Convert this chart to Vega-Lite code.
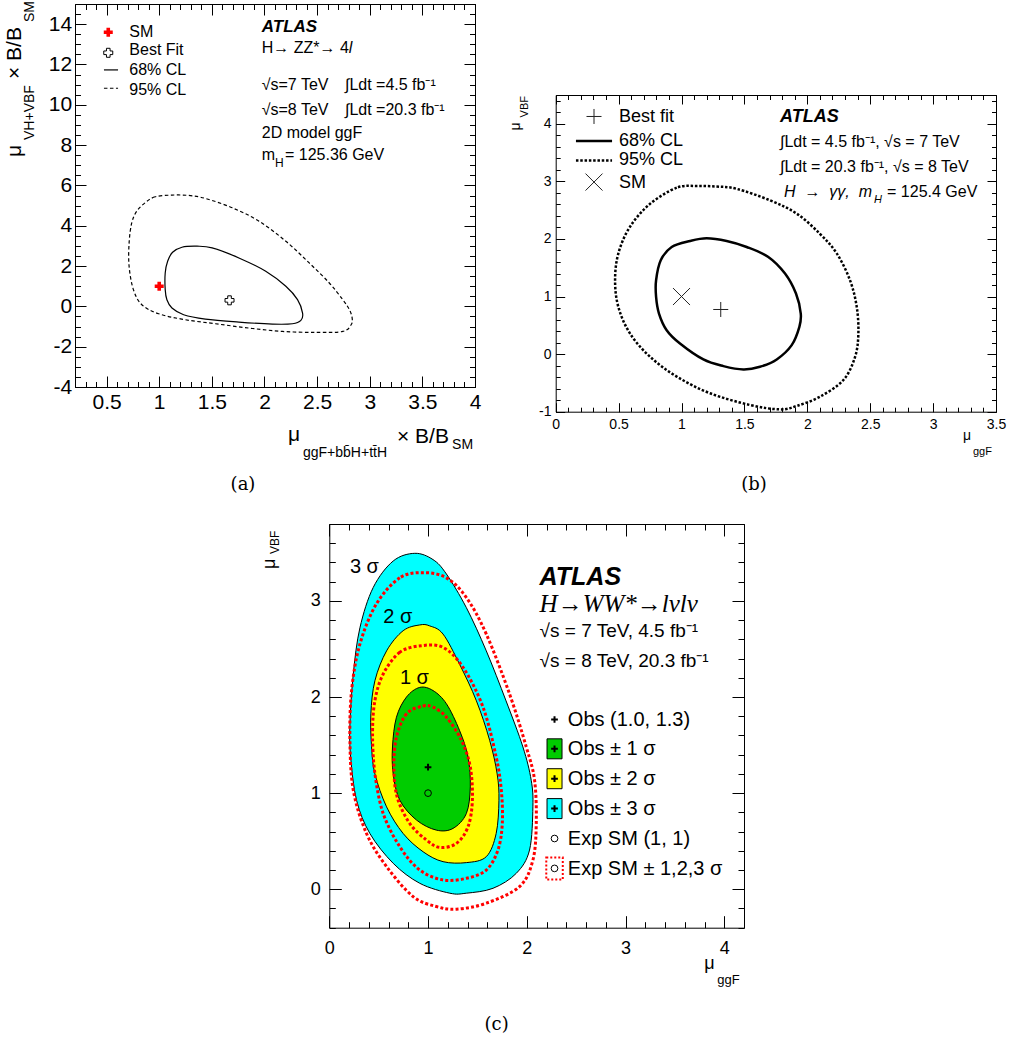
{
"$schema":"https://vega.github.io/schema/vega-lite/v6.json",
"width":1013,"height":1043,
"autosize":{"type":"none"},
"padding":0,
"background":"white",
"config":{"view":{"stroke":null},"axis":{"grid":false,"labelFont":"Liberation Sans","labelColor":"black","tickColor":"black","domainColor":"black","labelFlush":false,"labelOverlap":false,"tickWidth":1,"domainWidth":1,"zindex":1},"text":{"font":"Liberation Sans","color":"black"}},
"datasets":{
"a68":[{"i":0,"x":1.057,"y":0.829},{"i":1,"x":1.057,"y":1.658},{"i":2,"x":1.08,"y":2.238},{"i":3,"x":1.127,"y":2.685},{"i":4,"x":1.216,"y":2.934},{"i":5,"x":1.36,"y":2.984},{"i":6,"x":1.503,"y":2.901},{"i":7,"x":1.757,"y":2.403},{"i":8,"x":2.012,"y":1.74},{"i":9,"x":2.203,"y":0.995},{"i":10,"x":2.314,"y":0.332},{"i":11,"x":2.362,"y":-0.332},{"i":12,"x":2.346,"y":-0.696},{"i":13,"x":2.266,"y":-0.862},{"i":14,"x":2.075,"y":-0.879},{"i":15,"x":1.757,"y":-0.779},{"i":16,"x":1.439,"y":-0.63},{"i":17,"x":1.232,"y":-0.414},{"i":18,"x":1.121,"y":-0.083},{"i":19,"x":1.073,"y":0.332}],
"a95":[{"i":0,"x":1.121,"y":5.52},{"i":1,"x":0.962,"y":5.437},{"i":2,"x":0.866,"y":5.138},{"i":3,"x":0.787,"y":4.724},{"i":4,"x":0.739,"y":4.144},{"i":5,"x":0.714,"y":3.149},{"i":6,"x":0.714,"y":1.989},{"i":7,"x":0.755,"y":0.829},{"i":8,"x":0.835,"y":0.083},{"i":9,"x":0.994,"y":-0.365},{"i":10,"x":1.248,"y":-0.663},{"i":11,"x":1.535,"y":-0.862},{"i":12,"x":1.853,"y":-1.077},{"i":13,"x":2.171,"y":-1.243},{"i":14,"x":2.489,"y":-1.293},{"i":15,"x":2.744,"y":-1.243},{"i":16,"x":2.823,"y":-0.912},{"i":17,"x":2.833,"y":-0.58},{"i":18,"x":2.807,"y":-0.166},{"i":19,"x":2.744,"y":0.332},{"i":20,"x":2.616,"y":1.16},{"i":21,"x":2.425,"y":2.155},{"i":22,"x":2.203,"y":3.232},{"i":23,"x":1.948,"y":4.227},{"i":24,"x":1.694,"y":4.89},{"i":25,"x":1.439,"y":5.354},{"i":26,"x":1.28,"y":5.503}],
"aSM":[{"x":1,"y":1},{"x":0.516,"y":13.6}],
"aBF":[{"x":1.668,"y":0.3},{"x":0.516,"y":12.58}],
"aL68":[{"x":0.475,"x2":0.609,"y":11.73}],
"aL95":[{"x":0.475,"x2":0.609,"y":10.82}],
"aTxt":[{"x":1.974,"y":12.555,"t":"H→ ZZ*→ 4"},{"x":1.974,"y":10.734,"t":"√s=7 TeV"},{"x":2.765,"y":10.734,"t":"∫Ldt =4.5 fb⁻¹"},{"x":1.974,"y":9.494,"t":"√s=8 TeV"},{"x":2.765,"y":9.494,"t":"∫Ldt =20.3 fb⁻¹"},{"x":1.974,"y":8.353,"t":"2D model ggF"},{"x":1.974,"y":7.262,"t":"m"},{"x":2.195,"y":7.262,"t":"= 125.36 GeV"},{"x":0.716,"y":13.38,"t":"SM"},{"x":0.716,"y":12.47,"t":"Best Fit"},{"x":0.716,"y":11.48,"t":"68% CL"},{"x":0.716,"y":10.49,"t":"95% CL"}],
"aItal":[{"x":2.8,"y":12.555,"t":"l"}],
"aSub":[{"x":2.1,"y":6.915,"t":"H"}],
"aAtlas":[{"x":1.974,"y":13.626,"t":"ATLAS"}],
"aAxT":[{"x":2.224,"y":-6.676,"t":"μ"},{"x":3.259,"y":-6.776,"t":"× B/B"}],
"aAxS":[{"x":2.366,"y":-7.47,"t":"ggF+bb̄H+tt̄H"},{"x":3.782,"y":-7.07,"t":"SM"}],
"aAxTR":[{"x":-0.313,"y":7.411,"t":"μ"},{"x":-0.313,"y":11.28,"t":"× B/B"}],
"aAxSR":[{"x":-0.1895,"y":8.254,"t":"VH+VBF"},{"x":-0.1895,"y":14.107,"t":"SM"}],
"aLab":[{"x":1.796,"y":-9.107,"t":"(a)"}],
"b68":[{"i":0,"x":1.2,"y":2.012},{"i":1,"x":1.068,"y":1.965},{"i":2,"x":0.922,"y":1.861},{"i":3,"x":0.835,"y":1.63},{"i":4,"x":0.798,"y":1.283},{"i":5,"x":0.798,"y":0.994},{"i":6,"x":0.821,"y":0.705},{"i":7,"x":0.882,"y":0.416},{"i":8,"x":0.988,"y":0.185},{"i":9,"x":1.174,"y":-0.092},{"i":10,"x":1.333,"y":-0.208},{"i":11,"x":1.492,"y":-0.266},{"i":12,"x":1.624,"y":-0.22},{"i":13,"x":1.757,"y":-0.092},{"i":14,"x":1.876,"y":0.156},{"i":15,"x":1.937,"y":0.474},{"i":16,"x":1.948,"y":0.705},{"i":17,"x":1.91,"y":1.052},{"i":18,"x":1.823,"y":1.399},{"i":19,"x":1.69,"y":1.688},{"i":20,"x":1.518,"y":1.861},{"i":21,"x":1.359,"y":1.965}],
"b95":[{"i":0,"x":1.121,"y":2.92},{"i":1,"x":0.962,"y":2.89},{"i":2,"x":0.75,"y":2.61},{"i":3,"x":0.59,"y":2.21},{"i":4,"x":0.498,"y":1.75},{"i":5,"x":0.472,"y":1.28},{"i":6,"x":0.498,"y":0.82},{"i":7,"x":0.59,"y":0.36},{"i":8,"x":0.75,"y":-0.046},{"i":9,"x":0.962,"y":-0.39},{"i":10,"x":1.227,"y":-0.68},{"i":11,"x":1.545,"y":-0.884},{"i":12,"x":1.783,"y":-0.96},{"i":13,"x":1.916,"y":-0.9},{"i":14,"x":2.1,"y":-0.74},{"i":15,"x":2.287,"y":-0.45},{"i":16,"x":2.38,"y":-0.046},{"i":17,"x":2.406,"y":0.358},{"i":18,"x":2.393,"y":0.82},{"i":19,"x":2.34,"y":1.28},{"i":20,"x":2.234,"y":1.75},{"i":21,"x":2.1,"y":2.09},{"i":22,"x":1.916,"y":2.44},{"i":23,"x":1.704,"y":2.67},{"i":24,"x":1.439,"y":2.87},{"i":25,"x":1.28,"y":2.91}],
"bSM":[{"x":1,"y":1},{"x":0.3045,"y":2.988}],
"bBF":[{"x":1.312,"y":0.775},{"x":0.3045,"y":4.127}],
"bL68":[{"x":0.161,"x2":0.448,"y":3.699}],
"bL95":[{"x":0.161,"x2":0.448,"y":3.364}],
"bLeg":[{"x":0.503,"y":4.028,"t":"Best fit"},{"x":0.503,"y":3.607,"t":"68% CL"},{"x":0.503,"y":3.277,"t":"95% CL"},{"x":0.503,"y":2.89,"t":"SM"}],
"bTxt":[{"x":1.783,"y":3.595,"t":"∫Ldt = 4.5 fb⁻¹, √s = 7 TeV"},{"x":1.783,"y":3.161,"t":"∫Ldt = 20.3 fb⁻¹, √s = 8 TeV"},{"x":2.634,"y":2.728,"t":"= 125.4 GeV"}],
"bItal":[{"x":1.815,"y":2.728,"t":"H \u00a0→ \u00a0γγ, \u00a0m"}],
"bSub":[{"x":2.53,"y":2.618,"t":"H"}],
"bAtlas":[{"x":1.783,"y":4.028,"t":"ATLAS"}],
"bAxT":[{"x":3.238,"y":-1.491,"t":"μ"}],
"bAxS":[{"x":3.317,"y":-1.751,"t":"ggF"}],
"bAxTR":[{"x":-0.284,"y":3.884,"t":"μ"}],
"bAxSR":[{"x":-0.22,"y":4.11,"t":"VBF"}],
"bLab":[{"x":1.576,"y":-2.358,"t":"(b)"}],
"c3":[{"i":0,"x":0.866,"y":3.495},{"i":1,"x":0.647,"y":3.415},{"i":2,"x":0.445,"y":3.14},{"i":3,"x":0.31,"y":2.72},{"i":4,"x":0.243,"y":2.24},{"i":5,"x":0.209,"y":1.72},{"i":6,"x":0.216,"y":1.376},{"i":7,"x":0.276,"y":0.926},{"i":8,"x":0.411,"y":0.58},{"i":9,"x":0.647,"y":0.27},{"i":10,"x":0.916,"y":0.062},{"i":11,"x":1.22,"y":-0.041},{"i":12,"x":1.388,"y":-0.041},{"i":13,"x":1.658,"y":0.01},{"i":14,"x":1.894,"y":0.166},{"i":15,"x":2.028,"y":0.408},{"i":16,"x":2.062,"y":0.857},{"i":17,"x":2.045,"y":1.134},{"i":18,"x":1.961,"y":1.48},{"i":19,"x":1.79,"y":1.96},{"i":20,"x":1.59,"y":2.48},{"i":21,"x":1.388,"y":2.93},{"i":22,"x":1.186,"y":3.28},{"i":23,"x":1.05,"y":3.43}],
"c2":[{"i":0,"x":0.916,"y":2.75},{"i":1,"x":0.748,"y":2.69},{"i":2,"x":0.58,"y":2.48},{"i":3,"x":0.462,"y":2.17},{"i":4,"x":0.421,"y":1.825},{"i":5,"x":0.428,"y":1.48},{"i":6,"x":0.462,"y":1.2},{"i":7,"x":0.58,"y":0.857},{"i":8,"x":0.748,"y":0.58},{"i":9,"x":0.95,"y":0.39},{"i":10,"x":1.152,"y":0.287},{"i":11,"x":1.388,"y":0.277},{"i":12,"x":1.59,"y":0.339},{"i":13,"x":1.69,"y":0.58},{"i":14,"x":1.718,"y":0.926},{"i":15,"x":1.7,"y":1.2},{"i":16,"x":1.624,"y":1.55},{"i":17,"x":1.49,"y":1.96},{"i":18,"x":1.32,"y":2.34},{"i":19,"x":1.152,"y":2.655},{"i":20,"x":1.017,"y":2.74}],
"c1":[{"i":0,"x":0.916,"y":2.1},{"i":1,"x":0.782,"y":2.0},{"i":2,"x":0.68,"y":1.79},{"i":3,"x":0.64,"y":1.48},{"i":4,"x":0.647,"y":1.2},{"i":5,"x":0.714,"y":0.926},{"i":6,"x":0.883,"y":0.72},{"i":7,"x":1.085,"y":0.615},{"i":8,"x":1.253,"y":0.633},{"i":9,"x":1.388,"y":0.788},{"i":10,"x":1.428,"y":1.065},{"i":11,"x":1.405,"y":1.376},{"i":12,"x":1.32,"y":1.65},{"i":13,"x":1.186,"y":1.93},{"i":14,"x":1.051,"y":2.067}],
"e3":[{"i":0,"x":0.95,"y":3.294},{"i":1,"x":0.714,"y":3.24},{"i":2,"x":0.478,"y":2.97},{"i":3,"x":0.31,"y":2.55},{"i":4,"x":0.226,"y":2.07},{"i":5,"x":0.209,"y":1.55},{"i":6,"x":0.243,"y":1.03},{"i":7,"x":0.377,"y":0.58},{"i":8,"x":0.58,"y":0.235},{"i":9,"x":0.849,"y":-0.076},{"i":10,"x":1.085,"y":-0.18},{"i":11,"x":1.287,"y":-0.207},{"i":12,"x":1.59,"y":-0.145},{"i":13,"x":1.927,"y":0.028},{"i":14,"x":2.062,"y":0.304},{"i":15,"x":2.096,"y":0.684},{"i":16,"x":2.079,"y":1.134},{"i":17,"x":1.995,"y":1.48},{"i":18,"x":1.826,"y":2.03},{"i":19,"x":1.59,"y":2.655},{"i":20,"x":1.388,"y":3.035},{"i":21,"x":1.186,"y":3.24}],
"e2":[{"i":0,"x":0.933,"y":2.534},{"i":1,"x":0.714,"y":2.465},{"i":2,"x":0.546,"y":2.24},{"i":3,"x":0.462,"y":1.963},{"i":4,"x":0.438,"y":1.618},{"i":5,"x":0.462,"y":1.203},{"i":6,"x":0.546,"y":0.788},{"i":7,"x":0.714,"y":0.442},{"i":8,"x":0.916,"y":0.2},{"i":9,"x":1.152,"y":0.097},{"i":10,"x":1.388,"y":0.114},{"i":11,"x":1.59,"y":0.2},{"i":12,"x":1.708,"y":0.408},{"i":13,"x":1.752,"y":0.684},{"i":14,"x":1.742,"y":1.03},{"i":15,"x":1.69,"y":1.376},{"i":16,"x":1.557,"y":1.894},{"i":17,"x":1.354,"y":2.31},{"i":18,"x":1.152,"y":2.516}],
"e1":[{"i":0,"x":0.943,"y":1.905},{"i":1,"x":0.782,"y":1.825},{"i":2,"x":0.68,"y":1.583},{"i":3,"x":0.654,"y":1.272},{"i":4,"x":0.687,"y":0.961},{"i":5,"x":0.815,"y":0.684},{"i":6,"x":0.984,"y":0.512},{"i":7,"x":1.118,"y":0.436},{"i":8,"x":1.287,"y":0.477},{"i":9,"x":1.405,"y":0.65},{"i":10,"x":1.449,"y":0.926},{"i":11,"x":1.428,"y":1.272},{"i":12,"x":1.338,"y":1.549},{"i":13,"x":1.186,"y":1.79},{"i":14,"x":1.051,"y":1.894}],
"cBox":[{"x":2.281,"y":1.461,"k":"s1"},{"x":2.281,"y":1.15,"k":"s2"},{"x":2.281,"y":0.839,"k":"s3"}],
"cRed":[{"x":2.281,"y":0.217}],
"cObs":[{"x":1.0,"y":1.27},{"x":2.281,"y":1.766},{"x":2.281,"y":1.461},{"x":2.281,"y":1.15},{"x":2.281,"y":0.839}],
"cExp":[{"x":1.0,"y":1.0},{"x":2.281,"y":0.528},{"x":2.281,"y":0.217}],
"cLeg":[{"x":2.416,"y":1.7,"t":"Obs (1.0, 1.3)"},{"x":2.416,"y":1.394,"t":"Obs ± 1 σ"},{"x":2.416,"y":1.083,"t":"Obs ± 2 σ"},{"x":2.416,"y":0.772,"t":"Obs ± 3 σ"},{"x":2.416,"y":0.461,"t":"Exp SM (1, 1)"},{"x":2.416,"y":0.151,"t":"Exp SM ± 1,2,3 σ"},{"x":0.209,"y":3.294,"t":"3 σ"},{"x":0.546,"y":2.775,"t":"2 σ"},{"x":0.715,"y":2.136,"t":"1 σ"}],
"cAtlas":[{"x":2.13,"y":3.163,"t":"ATLAS"}],
"cTitle":[{"x":2.13,"y":2.886,"t":"H→WW*→lνlν"}],
"cTxt":[{"x":2.13,"y":2.62,"t":"√s = 7 TeV, 4.5 fb⁻¹"},{"x":2.13,"y":2.308,"t":"√s = 8 TeV, 20.3 fb⁻¹"}],
"cAxT":[{"x":3.797,"y":-0.8265,"t":"μ"}],
"cAxS":[{"x":3.929,"y":-0.982,"t":"ggF"}],
"cAxTR":[{"x":-0.549,"y":3.332,"t":"μ"}],
"cAxSR":[{"x":-0.508,"y":3.488,"t":"VBF"}],
"cLab":[{"x":1.695,"y":-1.469,"t":"(c)"}]
},
"resolve":{"scale":{"x":"independent","y":"independent"}},
"layer":[
{"resolve":{"axis":{"x":"independent","y":"independent"}},
"layer":[
{"data":{"name":"a95"},"mark":{"type":"line","interpolate":"cardinal-closed","stroke":"black","strokeWidth":1.2,"strokeDash":[3.5,2.5]},
"encoding":{"x":{"field":"x","type":"quantitative","scale":{"domain":[0.2,4],"range":[75,475],"nice":false,"zero":false},"axis":{"orient":"bottom","offset":-656,"values":[0.5,1,1.5,2,2.5,3,3.5,4],"format":"~g","labelExpr":"replace(datum.label, '\u2212', '-')","tickSize":-11,"labelPadding":15.5,"labelFontSize":21,"title":null}},
"y":{"field":"y","type":"quantitative","scale":{"domain":[-4,15],"range":[387,4],"nice":false,"zero":false},"axis":{"orient":"left","offset":-75,"values":[-4,-2,0,2,4,6,8,10,12,14],"format":"~g","labelExpr":"replace(datum.label, '\u2212', '-')","tickSize":-11,"labelPadding":14.3,"labelFontSize":21,"title":null}},
"order":{"field":"i"}}},
{"data":{"name":"a68"},"mark":{"type":"line","interpolate":"cardinal-closed","stroke":"black","strokeWidth":1.2},
"encoding":{"x":{"field":"x","type":"quantitative","scale":{"domain":[0.2,4],"range":[75,475],"nice":false,"zero":false},"axis":{"orient":"bottom","offset":-656,"values":[0.2,0.3,0.4,0.5,0.6,0.7,0.8,0.9,1,1.1,1.2,1.3,1.4,1.5,1.6,1.7,1.8,1.9,2,2.1,2.2,2.3,2.4,2.5,2.6,2.7,2.8,2.9,3,3.1,3.2,3.3,3.4,3.5,3.6,3.7,3.8,3.9,4],"tickSize":-5.5,"labels":false,"domain":false,"title":null}},
"y":{"field":"y","type":"quantitative","scale":{"domain":[-4,15],"range":[387,4],"nice":false,"zero":false},"axis":{"orient":"left","offset":-75,"values":[-4,-3.5,-3,-2.5,-2,-1.5,-1,-0.5,0,0.5,1,1.5,2,2.5,3,3.5,4,4.5,5,5.5,6,6.5,7,7.5,8,8.5,9,9.5,10,10.5,11,11.5,12,12.5,13,13.5,14,14.5,15],"tickSize":-5.5,"labels":false,"domain":false,"title":null}},
"order":{"field":"i"}}},
{"data":{"name":"aSM"},"mark":{"type":"point","shape":"cross","filled":true,"color":"#ff0000","size":81,"opacity":1},
"encoding":{"x":{"field":"x","type":"quantitative","scale":{"domain":[0.2,4],"range":[75,475],"nice":false,"zero":false},"axis":{"orient":"top","offset":-4,"values":[0.5,1,1.5,2,2.5,3,3.5,4],"tickSize":-11,"labels":false,"title":null}},
"y":{"field":"y","type":"quantitative","scale":{"domain":[-4,15],"range":[387,4],"nice":false,"zero":false},"axis":{"orient":"right","offset":-538,"values":[-4,-2,0,2,4,6,8,10,12,14],"tickSize":-11,"labels":false,"title":null}}}},
{"data":{"name":"aBF"},"mark":{"type":"point","shape":"cross","filled":false,"fill":"white","stroke":"black","strokeWidth":1,"size":81,"opacity":1},
"encoding":{"x":{"field":"x","type":"quantitative","scale":{"domain":[0.2,4],"range":[75,475],"nice":false,"zero":false},"axis":{"orient":"top","offset":-4,"values":[0.2,0.3,0.4,0.5,0.6,0.7,0.8,0.9,1,1.1,1.2,1.3,1.4,1.5,1.6,1.7,1.8,1.9,2,2.1,2.2,2.3,2.4,2.5,2.6,2.7,2.8,2.9,3,3.1,3.2,3.3,3.4,3.5,3.6,3.7,3.8,3.9,4],"tickSize":-5.5,"labels":false,"domain":false,"title":null}},
"y":{"field":"y","type":"quantitative","scale":{"domain":[-4,15],"range":[387,4],"nice":false,"zero":false},"axis":{"orient":"right","offset":-538,"values":[-4,-3.5,-3,-2.5,-2,-1.5,-1,-0.5,0,0.5,1,1.5,2,2.5,3,3.5,4,4.5,5,5.5,6,6.5,7,7.5,8,8.5,9,9.5,10,10.5,11,11.5,12,12.5,13,13.5,14,14.5,15],"tickSize":-5.5,"labels":false,"domain":false,"title":null}}}},
{"data":{"name":"aL68"},"mark":{"type":"rule","stroke":"black","strokeWidth":1.2},"encoding":{"x":{"field":"x","type":"quantitative","axis":null},"x2":{"field":"x2"},"y":{"field":"y","type":"quantitative","axis":null}}},
{"data":{"name":"aL95"},"mark":{"type":"rule","stroke":"black","strokeWidth":1.2,"strokeDash":[3.5,2.5]},"encoding":{"x":{"field":"x","type":"quantitative","axis":null},"x2":{"field":"x2"},"y":{"field":"y","type":"quantitative","axis":null}}},
{"data":{"name":"aTxt"},"mark":{"type":"text","align":"left","baseline":"alphabetic","font":"Liberation Sans","fontSize":16},"encoding":{"x":{"field":"x","type":"quantitative","axis":null},"y":{"field":"y","type":"quantitative","axis":null},"text":{"field":"t"}}},
{"data":{"name":"aItal"},"mark":{"type":"text","align":"left","baseline":"alphabetic","font":"Liberation Sans","fontStyle":"italic","fontSize":16},"encoding":{"x":{"field":"x","type":"quantitative","axis":null},"y":{"field":"y","type":"quantitative","axis":null},"text":{"field":"t"}}},
{"data":{"name":"aSub"},"mark":{"type":"text","align":"left","baseline":"alphabetic","font":"Liberation Sans","fontSize":12},"encoding":{"x":{"field":"x","type":"quantitative","axis":null},"y":{"field":"y","type":"quantitative","axis":null},"text":{"field":"t"}}},
{"data":{"name":"aAtlas"},"mark":{"type":"text","align":"left","baseline":"alphabetic","font":"Liberation Sans","fontStyle":"italic","fontWeight":"bold","fontSize":17},"encoding":{"x":{"field":"x","type":"quantitative","axis":null},"y":{"field":"y","type":"quantitative","axis":null},"text":{"field":"t"}}},
{"data":{"name":"aAxT"},"mark":{"type":"text","align":"left","baseline":"alphabetic","font":"Liberation Sans","fontSize":21},"encoding":{"x":{"field":"x","type":"quantitative","axis":null},"y":{"field":"y","type":"quantitative","axis":null},"text":{"field":"t"}}},
{"data":{"name":"aAxS"},"mark":{"type":"text","align":"left","baseline":"alphabetic","font":"Liberation Sans","fontSize":14},"encoding":{"x":{"field":"x","type":"quantitative","axis":null},"y":{"field":"y","type":"quantitative","axis":null},"text":{"field":"t"}}},
{"data":{"name":"aAxTR"},"mark":{"type":"text","align":"left","baseline":"alphabetic","angle":270,"font":"Liberation Sans","fontSize":21},"encoding":{"x":{"field":"x","type":"quantitative","axis":null},"y":{"field":"y","type":"quantitative","axis":null},"text":{"field":"t"}}},
{"data":{"name":"aAxSR"},"mark":{"type":"text","align":"left","baseline":"alphabetic","angle":270,"font":"Liberation Sans","fontSize":14},"encoding":{"x":{"field":"x","type":"quantitative","axis":null},"y":{"field":"y","type":"quantitative","axis":null},"text":{"field":"t"}}},
{"data":{"name":"aLab"},"mark":{"type":"text","align":"center","baseline":"alphabetic","font":"DejaVu Serif","fontSize":18},"encoding":{"x":{"field":"x","type":"quantitative","axis":null},"y":{"field":"y","type":"quantitative","axis":null},"text":{"field":"t"}}}
]},
{"resolve":{"axis":{"x":"independent","y":"independent"}},
"layer":[
{"data":{"name":"b95"},"mark":{"type":"line","interpolate":"cardinal-closed","stroke":"black","strokeWidth":2.5,"strokeDash":[2.5,1.8]},
"encoding":{"x":{"field":"x","type":"quantitative","scale":{"domain":[0,3.5],"range":[555.7,996],"nice":false,"zero":false},"axis":{"orient":"bottom","offset":-631.3,"values":[0,0.5,1,1.5,2,2.5,3,3.5],"format":"~g","labelExpr":"replace(datum.label, '\u2212', '-')","tickSize":-9,"labelPadding":14.5,"labelFontSize":14,"title":null}},
"y":{"field":"y","type":"quantitative","scale":{"domain":[-1,4.5],"range":[411.7,95],"nice":false,"zero":false},"axis":{"orient":"left","offset":-555.7,"values":[-1,0,1,2,3,4],"format":"~g","labelExpr":"replace(datum.label, '\u2212', '-')","tickSize":-9,"labelPadding":13.7,"labelFontSize":14,"title":null}},
"order":{"field":"i"}}},
{"data":{"name":"b68"},"mark":{"type":"line","interpolate":"cardinal-closed","stroke":"black","strokeWidth":2.5},
"encoding":{"x":{"field":"x","type":"quantitative","scale":{"domain":[0,3.5],"range":[555.7,996],"nice":false,"zero":false},"axis":{"orient":"bottom","offset":-631.3,"values":[0,0.1,0.2,0.3,0.4,0.5,0.6,0.7,0.8,0.9,1,1.1,1.2,1.3,1.4,1.5,1.6,1.7,1.8,1.9,2,2.1,2.2,2.3,2.4,2.5,2.6,2.7,2.8,2.9,3,3.1,3.2,3.3,3.4,3.5],"tickSize":-4.5,"labels":false,"domain":false,"title":null}},
"y":{"field":"y","type":"quantitative","scale":{"domain":[-1,4.5],"range":[411.7,95],"nice":false,"zero":false},"axis":{"orient":"left","offset":-555.7,"values":[-1,-0.8,-0.6,-0.4,-0.2,0,0.2,0.4,0.6,0.8,1,1.2,1.4,1.6,1.8,2,2.2,2.4,2.6,2.8,3,3.2,3.4,3.6,3.8,4,4.2,4.4],"tickSize":-4.5,"labels":false,"domain":false,"title":null}},
"order":{"field":"i"}}},
{"data":{"name":"bSM"},"mark":{"type":"point","shape":"M-1,-1L1,1M-1,1L1,-1","filled":false,"stroke":"#222222","strokeWidth":1,"size":289,"opacity":1},
"encoding":{"x":{"field":"x","type":"quantitative","scale":{"domain":[0,3.5],"range":[555.7,996],"nice":false,"zero":false},"axis":{"orient":"top","offset":-95,"values":[0,0.5,1,1.5,2,2.5,3,3.5],"tickSize":-9,"labels":false,"title":null}},
"y":{"field":"y","type":"quantitative","scale":{"domain":[-1,4.5],"range":[411.7,95],"nice":false,"zero":false},"axis":{"orient":"right","offset":-17,"values":[-1,0,1,2,3,4],"tickSize":-9,"labels":false,"title":null}}}},
{"data":{"name":"bBF"},"mark":{"type":"point","shape":"M-1,0L1,0M0,-1L0,1","filled":false,"stroke":"#222222","strokeWidth":1,"size":225,"opacity":1},
"encoding":{"x":{"field":"x","type":"quantitative","scale":{"domain":[0,3.5],"range":[555.7,996],"nice":false,"zero":false},"axis":{"orient":"top","offset":-95,"values":[0,0.1,0.2,0.3,0.4,0.5,0.6,0.7,0.8,0.9,1,1.1,1.2,1.3,1.4,1.5,1.6,1.7,1.8,1.9,2,2.1,2.2,2.3,2.4,2.5,2.6,2.7,2.8,2.9,3,3.1,3.2,3.3,3.4,3.5],"tickSize":-4.5,"labels":false,"domain":false,"title":null}},
"y":{"field":"y","type":"quantitative","scale":{"domain":[-1,4.5],"range":[411.7,95],"nice":false,"zero":false},"axis":{"orient":"right","offset":-17,"values":[-1,-0.8,-0.6,-0.4,-0.2,0,0.2,0.4,0.6,0.8,1,1.2,1.4,1.6,1.8,2,2.2,2.4,2.6,2.8,3,3.2,3.4,3.6,3.8,4,4.2,4.4],"tickSize":-4.5,"labels":false,"domain":false,"title":null}}}},
{"data":{"name":"bL68"},"mark":{"type":"rule","stroke":"black","strokeWidth":2.5},"encoding":{"x":{"field":"x","type":"quantitative","axis":null},"x2":{"field":"x2"},"y":{"field":"y","type":"quantitative","axis":null}}},
{"data":{"name":"bL95"},"mark":{"type":"rule","stroke":"black","strokeWidth":2.5,"strokeDash":[2.5,1.8]},"encoding":{"x":{"field":"x","type":"quantitative","axis":null},"x2":{"field":"x2"},"y":{"field":"y","type":"quantitative","axis":null}}},
{"data":{"name":"bLeg"},"mark":{"type":"text","align":"left","baseline":"alphabetic","font":"Liberation Sans","fontSize":18},"encoding":{"x":{"field":"x","type":"quantitative","axis":null},"y":{"field":"y","type":"quantitative","axis":null},"text":{"field":"t"}}},
{"data":{"name":"bTxt"},"mark":{"type":"text","align":"left","baseline":"alphabetic","font":"Liberation Sans","fontSize":16},"encoding":{"x":{"field":"x","type":"quantitative","axis":null},"y":{"field":"y","type":"quantitative","axis":null},"text":{"field":"t"}}},
{"data":{"name":"bItal"},"mark":{"type":"text","align":"left","baseline":"alphabetic","font":"Liberation Sans","fontStyle":"italic","fontSize":16},"encoding":{"x":{"field":"x","type":"quantitative","axis":null},"y":{"field":"y","type":"quantitative","axis":null},"text":{"field":"t"}}},
{"data":{"name":"bSub"},"mark":{"type":"text","align":"left","baseline":"alphabetic","font":"Liberation Sans","fontStyle":"italic","fontSize":11},"encoding":{"x":{"field":"x","type":"quantitative","axis":null},"y":{"field":"y","type":"quantitative","axis":null},"text":{"field":"t"}}},
{"data":{"name":"bAtlas"},"mark":{"type":"text","align":"left","baseline":"alphabetic","font":"Liberation Sans","fontStyle":"italic","fontWeight":"bold","fontSize":18},"encoding":{"x":{"field":"x","type":"quantitative","axis":null},"y":{"field":"y","type":"quantitative","axis":null},"text":{"field":"t"}}},
{"data":{"name":"bAxT"},"mark":{"type":"text","align":"left","baseline":"alphabetic","font":"Liberation Sans","fontSize":14},"encoding":{"x":{"field":"x","type":"quantitative","axis":null},"y":{"field":"y","type":"quantitative","axis":null},"text":{"field":"t"}}},
{"data":{"name":"bAxS"},"mark":{"type":"text","align":"left","baseline":"alphabetic","font":"Liberation Sans","fontSize":11},"encoding":{"x":{"field":"x","type":"quantitative","axis":null},"y":{"field":"y","type":"quantitative","axis":null},"text":{"field":"t"}}},
{"data":{"name":"bAxTR"},"mark":{"type":"text","align":"left","baseline":"alphabetic","angle":270,"font":"Liberation Sans","fontSize":14},"encoding":{"x":{"field":"x","type":"quantitative","axis":null},"y":{"field":"y","type":"quantitative","axis":null},"text":{"field":"t"}}},
{"data":{"name":"bAxSR"},"mark":{"type":"text","align":"left","baseline":"alphabetic","angle":270,"font":"Liberation Sans","fontSize":11},"encoding":{"x":{"field":"x","type":"quantitative","axis":null},"y":{"field":"y","type":"quantitative","axis":null},"text":{"field":"t"}}},
{"data":{"name":"bLab"},"mark":{"type":"text","align":"center","baseline":"alphabetic","font":"DejaVu Serif","fontSize":18},"encoding":{"x":{"field":"x","type":"quantitative","axis":null},"y":{"field":"y","type":"quantitative","axis":null},"text":{"field":"t"}}}
]},
{"resolve":{"axis":{"x":"independent","y":"independent"}},
"layer":[
{"data":{"name":"c3"},"mark":{"type":"line","interpolate":"cardinal-closed","fill":"#00ffff","stroke":"black","strokeWidth":1},
"encoding":{"x":{"field":"x","type":"quantitative","scale":{"domain":[0,4.2],"range":[329.3,744],"nice":false,"zero":false},"axis":{"orient":"bottom","offset":-115.3,"values":[0,1,2,3,4],"format":"~g","labelExpr":"replace(datum.label, '\u2212', '-')","tickSize":-12,"labelPadding":23.7,"labelFontSize":18,"title":null}},
"y":{"field":"y","type":"quantitative","scale":{"domain":[-0.4,3.8],"range":[927.7,524],"nice":false,"zero":false},"axis":{"orient":"left","offset":-329.3,"values":[0,1,2,3],"format":"~g","labelExpr":"replace(datum.label, '\u2212', '-')","tickSize":-12,"labelPadding":21,"labelFontSize":18,"title":null}},
"order":{"field":"i"}}},
{"data":{"name":"c2"},"mark":{"type":"line","interpolate":"cardinal-closed","fill":"#ffff00","stroke":"black","strokeWidth":1},
"encoding":{"x":{"field":"x","type":"quantitative","scale":{"domain":[0,4.2],"range":[329.3,744],"nice":false,"zero":false},"axis":{"orient":"bottom","offset":-115.3,"values":[0,0.2,0.4,0.6,0.8,1,1.2,1.4,1.6,1.8,2,2.2,2.4,2.6,2.8,3,3.2,3.4,3.6,3.8,4,4.2],"tickSize":-6,"labels":false,"domain":false,"title":null}},
"y":{"field":"y","type":"quantitative","scale":{"domain":[-0.4,3.8],"range":[927.7,524],"nice":false,"zero":false},"axis":{"orient":"left","offset":-329.3,"values":[-0.4,-0.2,0,0.2,0.4,0.6,0.8,1,1.2,1.4,1.6,1.8,2,2.2,2.4,2.6,2.8,3,3.2,3.4,3.6,3.8],"tickSize":-6,"labels":false,"domain":false,"title":null}},
"order":{"field":"i"}}},
{"data":{"name":"c1"},"mark":{"type":"line","interpolate":"cardinal-closed","fill":"#00cc00","stroke":"black","strokeWidth":1},
"encoding":{"x":{"field":"x","type":"quantitative","scale":{"domain":[0,4.2],"range":[329.3,744],"nice":false,"zero":false},"axis":{"orient":"top","offset":-524,"values":[0,1,2,3,4],"tickSize":-12,"labels":false,"title":null}},
"y":{"field":"y","type":"quantitative","scale":{"domain":[-0.4,3.8],"range":[927.7,524],"nice":false,"zero":false},"axis":{"orient":"right","offset":-269,"values":[0,1,2,3],"tickSize":-12,"labels":false,"title":null}},
"order":{"field":"i"}}},
{"data":{"name":"e3"},"mark":{"type":"line","interpolate":"cardinal-closed","stroke":"#ff0000","strokeWidth":3,"strokeDash":[3,2.2]},
"encoding":{"x":{"field":"x","type":"quantitative","scale":{"domain":[0,4.2],"range":[329.3,744],"nice":false,"zero":false},"axis":{"orient":"top","offset":-524,"values":[0,0.2,0.4,0.6,0.8,1,1.2,1.4,1.6,1.8,2,2.2,2.4,2.6,2.8,3,3.2,3.4,3.6,3.8,4,4.2],"tickSize":-6,"labels":false,"domain":false,"title":null}},
"y":{"field":"y","type":"quantitative","scale":{"domain":[-0.4,3.8],"range":[927.7,524],"nice":false,"zero":false},"axis":{"orient":"right","offset":-269,"values":[-0.4,-0.2,0,0.2,0.4,0.6,0.8,1,1.2,1.4,1.6,1.8,2,2.2,2.4,2.6,2.8,3,3.2,3.4,3.6,3.8],"tickSize":-6,"labels":false,"domain":false,"title":null}},
"order":{"field":"i"}}},
{"data":{"name":"e2"},"mark":{"type":"line","interpolate":"cardinal-closed","stroke":"#ff0000","strokeWidth":3,"strokeDash":[3,2.2]},"encoding":{"x":{"field":"x","type":"quantitative","axis":null},"y":{"field":"y","type":"quantitative","axis":null},"order":{"field":"i"}}},
{"data":{"name":"e1"},"mark":{"type":"line","interpolate":"cardinal-closed","stroke":"#ff0000","strokeWidth":3,"strokeDash":[3,2.2]},"encoding":{"x":{"field":"x","type":"quantitative","axis":null},"y":{"field":"y","type":"quantitative","axis":null},"order":{"field":"i"}}},
{"data":{"name":"cBox"},"mark":{"type":"point","shape":"M-0.75,-1L0.75,-1L0.75,1L-0.75,1Z","filled":true,"stroke":"black","strokeWidth":1,"size":400,"opacity":1},"encoding":{"x":{"field":"x","type":"quantitative","axis":null},"y":{"field":"y","type":"quantitative","axis":null},"fill":{"field":"k","type":"nominal","scale":{"domain":["s1","s2","s3"],"range":["#00cc00","#ffff00","#00ffff"]},"legend":null}}},
{"data":{"name":"cRed"},"mark":{"type":"point","shape":"M-0.75,-1L0.75,-1L0.75,1L-0.75,1Z","filled":false,"fill":"white","stroke":"#ff0000","strokeWidth":2,"strokeDash":[2,2],"size":484,"opacity":1},"encoding":{"x":{"field":"x","type":"quantitative","axis":null},"y":{"field":"y","type":"quantitative","axis":null}}},
{"data":{"name":"cObs"},"mark":{"type":"point","shape":"M-1,0L1,0M0,-1L0,1","filled":false,"stroke":"black","strokeWidth":2,"size":45,"opacity":1},"encoding":{"x":{"field":"x","type":"quantitative","axis":null},"y":{"field":"y","type":"quantitative","axis":null}}},
{"data":{"name":"cExp"},"mark":{"type":"point","shape":"circle","filled":false,"stroke":"black","strokeWidth":1,"size":45,"opacity":1},"encoding":{"x":{"field":"x","type":"quantitative","axis":null},"y":{"field":"y","type":"quantitative","axis":null}}},
{"data":{"name":"cLeg"},"mark":{"type":"text","align":"left","baseline":"alphabetic","font":"Liberation Sans","fontSize":20},"encoding":{"x":{"field":"x","type":"quantitative","axis":null},"y":{"field":"y","type":"quantitative","axis":null},"text":{"field":"t"}}},
{"data":{"name":"cAtlas"},"mark":{"type":"text","align":"left","baseline":"alphabetic","font":"Liberation Sans","fontStyle":"italic","fontWeight":"bold","fontSize":25},"encoding":{"x":{"field":"x","type":"quantitative","axis":null},"y":{"field":"y","type":"quantitative","axis":null},"text":{"field":"t"}}},
{"data":{"name":"cTitle"},"mark":{"type":"text","align":"left","baseline":"alphabetic","font":"Liberation Serif","fontStyle":"italic","fontSize":25},"encoding":{"x":{"field":"x","type":"quantitative","axis":null},"y":{"field":"y","type":"quantitative","axis":null},"text":{"field":"t"}}},
{"data":{"name":"cTxt"},"mark":{"type":"text","align":"left","baseline":"alphabetic","font":"Liberation Sans","fontSize":19},"encoding":{"x":{"field":"x","type":"quantitative","axis":null},"y":{"field":"y","type":"quantitative","axis":null},"text":{"field":"t"}}},
{"data":{"name":"cAxT"},"mark":{"type":"text","align":"left","baseline":"alphabetic","font":"Liberation Sans","fontSize":18},"encoding":{"x":{"field":"x","type":"quantitative","axis":null},"y":{"field":"y","type":"quantitative","axis":null},"text":{"field":"t"}}},
{"data":{"name":"cAxS"},"mark":{"type":"text","align":"left","baseline":"alphabetic","font":"Liberation Sans","fontSize":13},"encoding":{"x":{"field":"x","type":"quantitative","axis":null},"y":{"field":"y","type":"quantitative","axis":null},"text":{"field":"t"}}},
{"data":{"name":"cAxTR"},"mark":{"type":"text","align":"left","baseline":"alphabetic","angle":270,"font":"Liberation Sans","fontSize":18},"encoding":{"x":{"field":"x","type":"quantitative","axis":null},"y":{"field":"y","type":"quantitative","axis":null},"text":{"field":"t"}}},
{"data":{"name":"cAxSR"},"mark":{"type":"text","align":"left","baseline":"alphabetic","angle":270,"font":"Liberation Sans","fontSize":12},"encoding":{"x":{"field":"x","type":"quantitative","axis":null},"y":{"field":"y","type":"quantitative","axis":null},"text":{"field":"t"}}},
{"data":{"name":"cLab"},"mark":{"type":"text","align":"center","baseline":"alphabetic","font":"DejaVu Serif","fontSize":18},"encoding":{"x":{"field":"x","type":"quantitative","axis":null},"y":{"field":"y","type":"quantitative","axis":null},"text":{"field":"t"}}}
]}
]
}
